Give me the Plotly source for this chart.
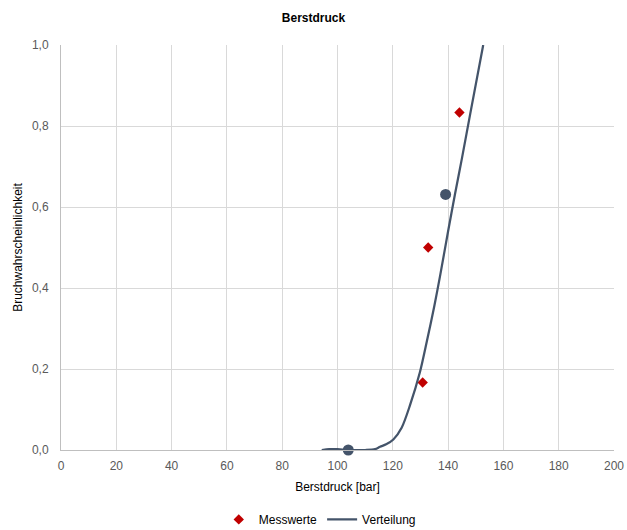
import plotly.graph_objects as go

# Measured values
mess_x = [130.8, 132.8, 144.1]
mess_y = [0.1667, 0.5, 0.8333]

# Distribution curve
vert_x = [94.3, 97, 100, 104, 110, 113.6, 115.4, 117.6, 120.2, 123.2, 126.2, 129.8,
          132.3, 135.0, 137.1, 140.0, 142.5, 145.0, 148.0, 152.7]
vert_y = [0.0, 0.002, 0.002, 0.0, 0.0, 0.002, 0.008, 0.014, 0.026, 0.055, 0.11, 0.192,
          0.268, 0.355, 0.43, 0.54, 0.632, 0.72, 0.83, 1.0]

# Characteristic points on the distribution
char_x = [103.9, 139.1]
char_y = [0.0, 0.631]

x_ticks = [0, 20, 40, 60, 80, 100, 120, 140, 160, 180, 200]
y_ticks = [0.0, 0.2, 0.4, 0.6, 0.8, 1.0]

LINE_COL = "#44546a"
RED = "#c00000"
GRID = "#d9d9d9"
TXT = "#595959"
FONT = "Liberation Sans, Arial, sans-serif"

fig = go.Figure()
fig.add_trace(go.Scatter(
    x=mess_x, y=mess_y, mode="markers", name="Messwerte",
    marker=dict(symbol="diamond", size=8, color=RED),
))
fig.add_trace(go.Scatter(
    x=vert_x, y=vert_y, mode="lines", name="Verteilung",
    line=dict(color=LINE_COL, width=2.25, shape="spline", smoothing=0.8),
))
fig.add_trace(go.Scatter(
    x=char_x, y=char_y, mode="markers", showlegend=False,
    marker=dict(symbol="circle", size=11, color=LINE_COL),
    cliponaxis=False,
))

fig.update_layout(
    width=627, height=530,
    margin=dict(l=61, r=13, t=45, b=80, autoexpand=False),
    paper_bgcolor="white", plot_bgcolor="white",
    separators=",.",
    font=dict(family=FONT, size=12, color=TXT),
    title=dict(text="<b>Berstdruck</b>", x=0.5, xanchor="center", y=0.966, yanchor="middle",
               font=dict(family=FONT, size=12, color="#000000")),
    showlegend=True,
    legend=dict(orientation="h", x=0.51, xanchor="center", xref="container",
                y=0.02, yanchor="middle", yref="container",
                font=dict(family=FONT, size=12, color="#000000"), itemwidth=30),
    xaxis=dict(
        range=[0, 200], tickvals=x_ticks, showgrid=True, gridcolor=GRID, gridwidth=1,
        showline=True, linecolor="#bfbfbf", linewidth=1, zeroline=False, automargin=False,
        ticks="", tickfont=dict(size=12, color=TXT), ticklabelstandoff=5,
        title=dict(text="Berstdruck [bar]", font=dict(size=12, color="#000000"), standoff=10),
    ),
    yaxis=dict(
        range=[0, 1.0], tickvals=y_ticks, tickformat=".1f", showgrid=True, gridcolor=GRID,
        gridwidth=1, showline=True, linecolor="#bfbfbf", linewidth=1, zeroline=False,
        automargin=False, ticklabelstandoff=9,
        ticks="", tickfont=dict(size=12, color=TXT),
        title=dict(text="Bruchwahrscheinlichkeit", font=dict(size=12, color="#000000"), standoff=6),
    ),
)

fig.write_html("out.html")
